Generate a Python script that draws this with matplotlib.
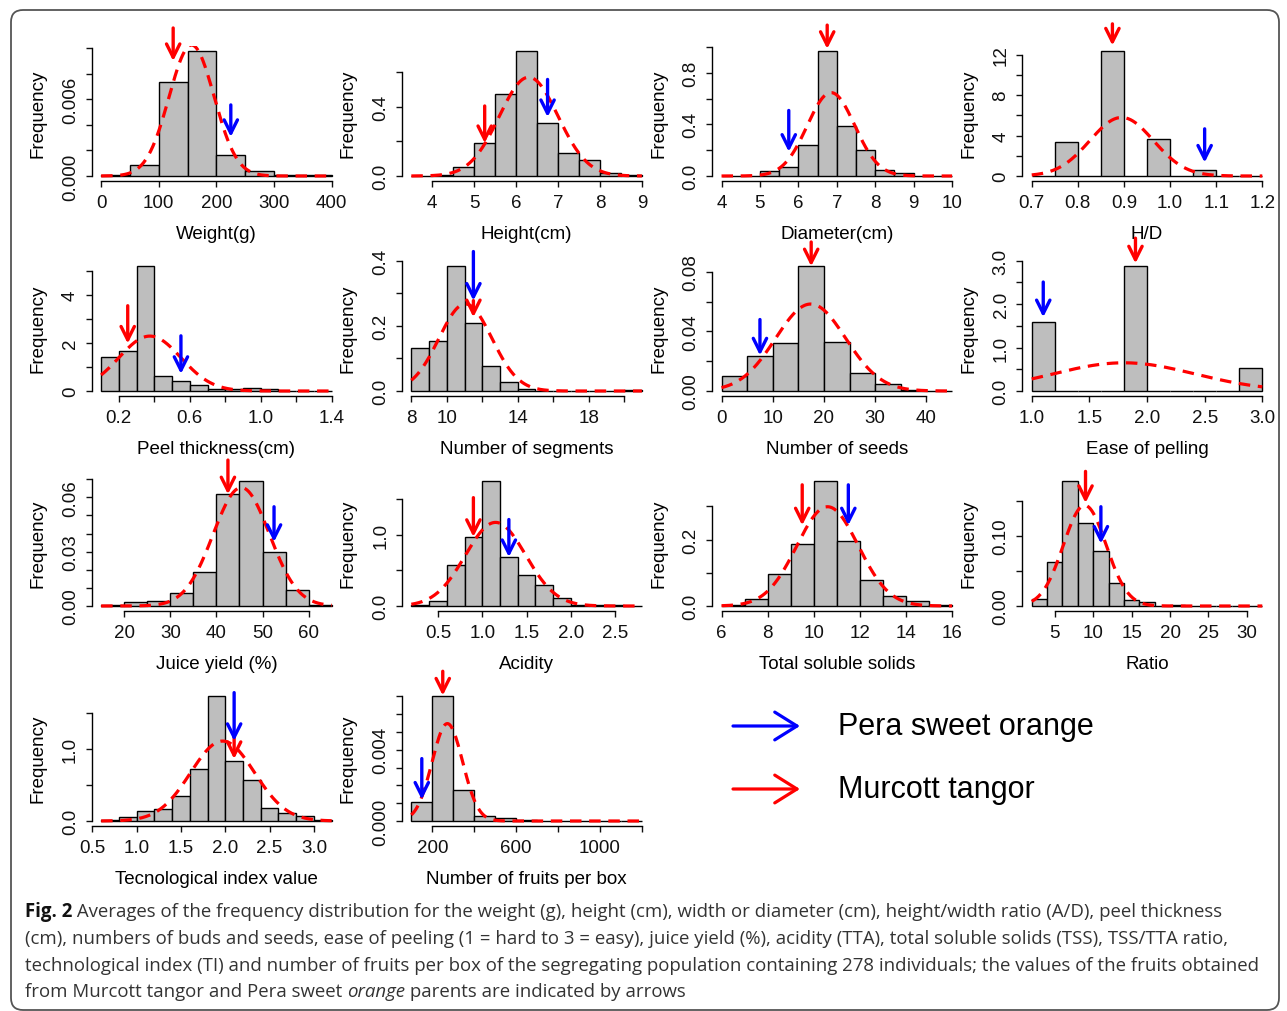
import numpy as np
import matplotlib
matplotlib.use("Agg")
import matplotlib.pyplot as plt
from matplotlib.patches import FancyBboxPatch, FancyArrowPatch

plt.rcParams['font.family'] = ['Liberation Sans', 'DejaVu Sans']

W, H = 1287, 1012

x_labels = ["Weight(g)", "Height(cm)", "Diameter(cm)", "H/D",
            "Peel thickness(cm)", "Number of segments", "Number of seeds", "Ease of pelling",
            "Juice yield (%)", "Acidity", "Total soluble solids", "Ratio",
            "Tecnological index value", "Number of fruits per box"]

bin_start = [0, 3.5, 4, 0.7, 0.1, 8, 0, 1.0, 15, 0.2, 6, 2, 0.6, 100]
bin_width = [50, 0.5, 0.5, 0.05, 0.1, 1, 5, 0.2, 5, 0.2, 1, 2, 0.2, 100]

densities = [
    [0.00005, 0.00084, 0.00734, 0.0098, 0.00163, 0.0004, 0.0001, 0.00008],
    [0.002, 0.005, 0.052, 0.188, 0.472, 0.724, 0.305, 0.132, 0.091, 0.017, 0.008],
    [0.002, 0.002, 0.042, 0.07, 0.237, 0.973, 0.391, 0.198, 0.044, 0.026, 0.002, 0.002],
    [0, 3.4, 0, 12.43, 0, 3.63, 0, 0.57, 0, 0],
    [1.41, 1.64, 5.21, 0.64, 0.40, 0.25, 0.10, 0.10, 0.14, 0.07, 0.01, 0.01, 0.01],
    [0.133, 0.153, 0.386, 0.210, 0.078, 0.028, 0.005, 0, 0, 0, 0, 0, 0.004],
    [0.0099, 0.0234, 0.032, 0.0843, 0.0327, 0.0124, 0.005, 0.0009, 0.0002],
    [1.58, 0, 0.01, 0, 2.88, 0, 0, 0, 0, 0.52],
    [0.0003, 0.0022, 0.0028, 0.007, 0.0187, 0.0617, 0.0693, 0.030, 0.0089, 0.0004],
    [0.01, 0.07, 0.58, 0.967, 1.756, 0.685, 0.432, 0.296, 0.117, 0.01, 0.02, 0.02, 0.005],
    [0.002, 0.02, 0.095, 0.187, 0.378, 0.196, 0.079, 0.029, 0.015, 0.002],
    [0.0105, 0.0622, 0.179, 0.119, 0.0785, 0.0335, 0.0081, 0.0053, 0.0005, 0.002,
     0.0003, 0.0003, 0.0003, 0.0003, 0.0003],
    [0.01, 0.06, 0.14, 0.17, 0.35, 0.72, 1.74, 0.83, 0.57, 0.18, 0.11, 0.07, 0.01],
    [0.00107, 0.00704, 0.00175, 0.00028, 0.00017, 0.00005, 0.00002, 0.00002,
     0.00002, 0.00002, 0.00002],
]

# normal fit drawn over each histogram
fit_mean = [157, 6.3, 6.85, 0.895, 0.375, 11.05, 17.4, 1.8, 45.4, 1.15, 10.6, 8.9, 1.97, 272]
fit_sd = [39, 0.70, 0.617, 0.0688, 0.175, 1.49, 6.83, 0.614, 6.1, 0.341, 1.334, 2.78, 0.36, 73]

# parent values (arrows)
murcott_x = [125, 5.25, 6.75, 0.875, 0.25, 11.5, 17.5, 1.9, 42.5, 0.9, 9.5, 9.0, 2.1, 250]
pera_x = [225, 6.75, 5.75, 1.075, 0.55, 11.5, 7.5, 1.1, 52.5, 1.3, 11.5, 11.0, 2.1, 150]

murcott_span = [(0.01156, 0.00898), (0.404, 0.19), (1.17, 0.986), (15.07, 12.93),
                (3.54, 1.97), (0.278, 0.227), (0.1001, 0.0838), (3.52, 2.94),
                (0.0806, 0.0617), (1.516, 0.967), (0.365, 0.243), (0.192, 0.147),
                (1.21, 0.86), (0.0084, 0.00704)]
pera_span = [(0.00555, 0.00305), (0.557, 0.34), (0.508, 0.188), (4.67, 1.33),
             (2.29, 0.71), (0.429, 0.278), (0.048, 0.0239), (2.51, 1.70),
             (0.0548, 0.0354), (1.21, 0.685), (0.365, 0.243), (0.1416, 0.089),
             (1.78, 1.11), (0.0035, 0.0012)]

x_ticks = [
    [0, 100, 200, 300, 400], [4, 5, 6, 7, 8, 9], [4, 5, 6, 7, 8, 9, 10],
    [0.7, 0.8, 0.9, 1.0, 1.1, 1.2],
    [0.2, 0.4, 0.6, 0.8, 1.0, 1.2, 1.4], [8, 10, 12, 14, 16, 18, 20], [0, 10, 20, 30, 40],
    [1.0, 1.5, 2.0, 2.5, 3.0],
    [20, 30, 40, 50, 60], [0.5, 1.0, 1.5, 2.0, 2.5], [6, 8, 10, 12, 14, 16],
    [5, 10, 15, 20, 25, 30],
    [0.5, 1.0, 1.5, 2.0, 2.5, 3.0], [200, 400, 600, 800, 1000, 1200],
]
x_ticklabels = [
    ["0", "100", "200", "300", "400"], ["4", "5", "6", "7", "8", "9"],
    ["4", "5", "6", "7", "8", "9", "10"], ["0.7", "0.8", "0.9", "1.0", "1.1", "1.2"],
    ["0.2", "", "0.6", "", "1.0", "", "1.4"], ["8", "10", "", "14", "", "18", ""],
    ["0", "10", "20", "30", "40"], ["1.0", "1.5", "2.0", "2.5", "3.0"],
    ["20", "30", "40", "50", "60"], ["0.5", "1.0", "1.5", "2.0", "2.5"],
    ["6", "8", "10", "12", "14", "16"], ["5", "10", "15", "20", "25", "30"],
    ["0.5", "1.0", "1.5", "2.0", "2.5", "3.0"], ["200", "", "600", "", "1000", ""],
]
y_ticks = [
    [0, 0.002, 0.004, 0.006, 0.008, 0.010], [0, 0.2, 0.4, 0.6], [0, 0.2, 0.4, 0.6, 0.8, 1.0],
    [0, 2, 4, 6, 8, 10, 12],
    [0, 1, 2, 3, 4, 5], [0, 0.1, 0.2, 0.3, 0.4], [0, 0.02, 0.04, 0.06, 0.08],
    [0, 0.5, 1.0, 1.5, 2.0, 2.5, 3.0],
    [0, 0.01, 0.02, 0.03, 0.04, 0.05, 0.06, 0.07], [0, 0.5, 1.0, 1.5], [0, 0.1, 0.2, 0.3],
    [0, 0.05, 0.10, 0.15],
    [0, 0.5, 1.0, 1.5], [0, 0.001, 0.002, 0.003, 0.004, 0.005, 0.006, 0.007],
]
y_ticklabels = [
    ["0.000", "", "", "0.006", "", ""], ["0.0", "", "0.4", ""], ["0.0", "", "0.4", "", "0.8", ""],
    ["0", "", "4", "", "8", "", "12"],
    ["0", "", "2", "", "4", ""], ["0.0", "", "0.2", "", "0.4"], ["0.00", "", "0.04", "", "0.08"],
    ["0.0", "", "1.0", "", "2.0", "", "3.0"],
    ["0.00", "", "", "0.03", "", "", "0.06", ""], ["0.0", "", "1.0", ""], ["0.0", "", "0.2", ""],
    ["0.00", "", "0.10", ""],
    ["0.0", "", "1.0", ""], ["0.000", "", "", "", "0.004", "", "", ""],
]

fig = plt.figure(figsize=(W / 100, H / 100), dpi=100)
fs = 13.5


def down_arrow(ax, x, span, color):
    ax.annotate("", xy=(x, span[1]), xytext=(x, span[0]), annotation_clip=False,
                arrowprops=dict(arrowstyle="->,head_length=0.8,head_width=0.4",
                                mutation_scale=12, color=color, lw=2.4,
                                shrinkA=0, shrinkB=0))


for i in range(14):
    r, c = divmod(i, 4)
    ax = fig.add_axes([(91.9 + 310.2 * c) / W, 1 - (182 + 215 * r) / H, 249 / W, 135.5 / H])
    n = len(densities[i])
    edges = bin_start[i] + bin_width[i] * np.arange(n + 1)
    ax.bar(edges[:-1], densities[i], width=bin_width[i], align='edge',
           color='#bebebe', edgecolor='black', linewidth=1.0)
    lo, hi = edges[0], edges[-1]
    ax.set_xlim(lo - 0.04 * (hi - lo), hi + 0.04 * (hi - lo))
    top = max(densities[i])
    ax.set_ylim(-0.04 * top, max(1.04 * top, y_ticks[i][-1] * 1.002))

    xs = np.linspace(lo, hi, 300)
    ys = np.exp(-0.5 * ((xs - fit_mean[i]) / fit_sd[i]) ** 2) / (fit_sd[i] * np.sqrt(2 * np.pi))
    ax.plot(xs, ys, color='red', lw=2.3, dashes=(3.6, 2.4))

    down_arrow(ax, murcott_x[i], murcott_span[i], 'red')
    down_arrow(ax, pera_x[i], pera_span[i], 'blue')

    for s in ['top', 'right']:
        ax.spines[s].set_visible(False)
    ax.spines['left'].set_bounds(y_ticks[i][0], y_ticks[i][-1])
    ax.spines['bottom'].set_bounds(x_ticks[i][0], x_ticks[i][-1])
    ax.spines['left'].set_linewidth(1.0)
    ax.spines['bottom'].set_linewidth(1.0)
    ax.set_xticks(x_ticks[i])
    ax.set_xticklabels(x_ticklabels[i])
    ax.set_yticks(y_ticks[i])
    ax.set_yticklabels(y_ticklabels[i], rotation=90, va='center')
    ax.tick_params(length=4.3, width=1.0, labelsize=fs, colors='#111111')
    ax.tick_params(axis='x', pad=4.8)
    ax.tick_params(axis='y', pad=5)
    ax.set_xlabel(x_labels[i], fontsize=fs, labelpad=10)
    ax.set_ylabel("Frequency", fontsize=fs, labelpad=11)
    ax.patch.set_visible(False)

# overlay in pixel units for legend, caption and frame
ov = fig.add_axes([0, 0, 1, 1], zorder=-1)
ov.set_xlim(0, W)
ov.set_ylim(H, 0)
ov.axis('off')

for y, color, name in [(727, 'blue', "Pera sweet orange"), (790, 'red', "Murcott tangor")]:
    ov.add_patch(FancyArrowPatch((733, y), (800, y), arrowstyle="->,head_length=0.8,head_width=0.5",
                                 mutation_scale=20, color=color, lw=2.3, shrinkA=0, shrinkB=0))
    ov.text(838, y, name, fontsize=22, va='center', ha='left', color='black')

ov.add_patch(FancyBboxPatch((11, 11), 1268, 1000, boxstyle="round,pad=0,rounding_size=12",
                            fill=False, ec='#555555', lw=1.3))

renderer = fig.canvas.get_renderer()
cap_fs = 13.45
cap_color = '#333333'
caption = [
    (912, [("Fig. 2", 'bold', 'normal'), (" Averages of the frequency distribution for the weight (g), height (cm), width or diameter (cm), height/width ratio (A/D), peel thickness", 'normal', 'normal')]),
    (939, [("(cm), numbers of buds and seeds, ease of peeling (1 = hard to 3 = easy), juice yield (%), acidity (TTA), total soluble solids (TSS), TSS/TTA ratio,", 'normal', 'normal')]),
    (966, [("technological index (TI) and number of fruits per box of the segregating population containing 278 individuals; the values of the fruits obtained", 'normal', 'normal')]),
    (992, [("from Murcott tangor and Pera sweet ", 'normal', 'normal'), ("orange", 'normal', 'italic'),
           (" parents are indicated by arrows", 'normal', 'normal')]),
]
for y, parts in caption:
    x = 25
    for txt, weight, style in parts:
        t = ov.text(x, y, txt, fontsize=cap_fs, family=['Open Sans', 'DejaVu Sans'],
                    fontweight=weight, fontstyle=style,
                    color='#111111' if weight == 'bold' else cap_color, va='center', ha='left')
        x += t.get_window_extent(renderer).width

fig.savefig("out.png", dpi=100)
